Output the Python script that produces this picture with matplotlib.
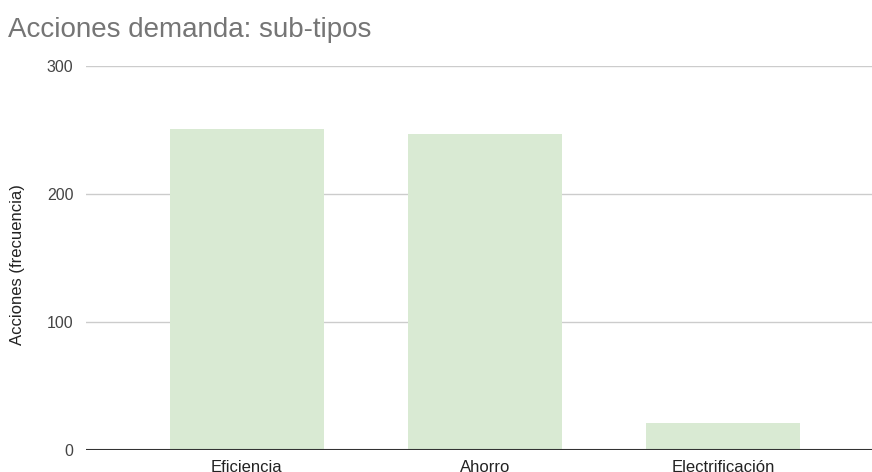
import matplotlib
matplotlib.use("Agg")
import matplotlib.pyplot as plt

categories = ["Eficiencia", "Ahorro", "Electrificación"]
values = [251, 247, 21]
yticks = [0, 100, 200, 300]

plt.rcParams["font.family"] = ["Liberation Sans", "DejaVu Sans"]

fig = plt.figure(figsize=(8.72, 4.72), dpi=100)
ax = fig.add_axes([86 / 872, 1 - 450 / 472, 1 - 86 / 872, (450 - 66) / 472])

x = list(range(len(categories)))
ax.bar(x, values, width=0.65, color="#d9ead3", zorder=2)

ax.set_ylim(0, 300)
ax.set_xlim(-0.676, 2.626)
ax.set_yticks(yticks)
ax.set_yticklabels([str(t) for t in yticks], fontsize=11.5, color="#444444")
ax.set_xticks(x)
ax.set_xticklabels(categories, fontsize=12, color="#222222")
ax.tick_params(axis="both", length=0)
ax.tick_params(axis="y", pad=9)
ax.tick_params(axis="x", pad=7)

for t in yticks[1:]:
    ax.axhline(t, color="#cccccc", linewidth=1, zorder=1)
ax.axhline(0, color="#333333", linewidth=1.5, zorder=3)

for s in ax.spines.values():
    s.set_visible(False)

ax.set_ylabel("Acciones (frecuencia)", fontsize=12, color="#222222")
ax.yaxis.set_label_coords(-(86 - 17) / 786, 0.484)
ax.yaxis.label.set_va("center")

fig.text(8 / 872, 1 - 30 / 472, "Acciones demanda: sub-tipos", fontsize=20,
         color="#757575", va="center", ha="left")

fig.savefig("out.png", dpi=100)
